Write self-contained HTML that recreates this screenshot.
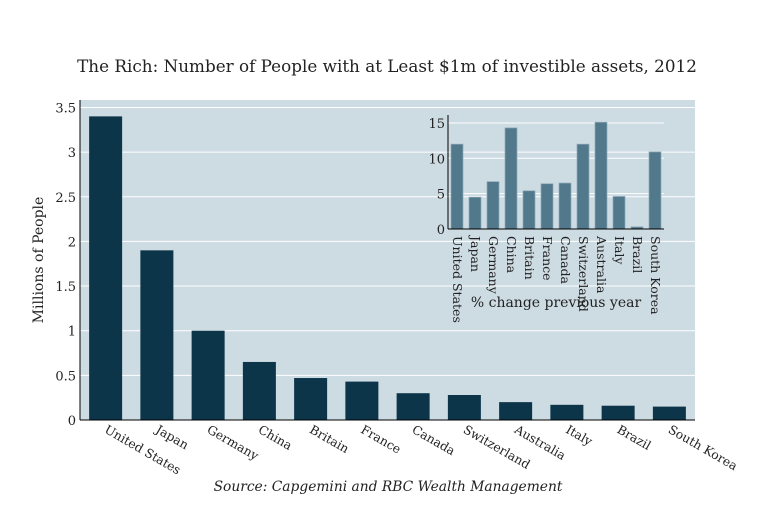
<!DOCTYPE html>
<html><head><meta charset="utf-8"><style>
body{margin:0;background:#fff;width:775px;height:500px;overflow:hidden}
svg text{font-family:"DejaVu Serif","Liberation Serif",serif;fill:#222}
</style></head><body>
<svg id="c" width="775" height="500">
<text x="387" y="72" text-anchor="middle" font-size="16.8">The Rich: Number of People with at Least $1m of investible assets, 2012</text>
<rect x="80" y="100" width="615" height="320" fill="#cddbe3"/>
<g id="main"></g><g id="inset"></g>
<text transform="translate(43,260) rotate(-90)" text-anchor="middle" font-size="14">Millions of People</text>
<text x="556" y="307" text-anchor="middle" font-size="14">% change previous year</text>
<text x="388" y="491" text-anchor="middle" font-size="13.8" font-style="italic">Source: Capgemini and RBC Wealth Management</text>
</svg>
<script>
const categories=["United States","Japan","Germany","China","Britain","France","Canada","Switzerland","Australia","Italy","Brazil","South Korea"];
const millions=[3.4,1.9,1.0,0.65,0.47,0.43,0.30,0.28,0.20,0.17,0.16,0.15];
const pctChange=[12.0,4.5,6.7,14.3,5.4,6.4,6.5,12.0,15.1,4.6,0.3,10.9];
const mainTicks=[0,0.5,1,1.5,2,2.5,3,3.5];
const mainTickLabels=["0","0.5","1","1.5","2","2.5","3","3.5"];
const insetTicks=[0,5,10,15];
const NS="http://www.w3.org/2000/svg";
function mk(p,t,a){const e=document.createElementNS(NS,t);for(const k in a)e.setAttribute(k,a[k]);p.appendChild(e);return e;}
const main=document.getElementById('main'),inset=document.getElementById('inset');
const my=v=>420-v*89.3, mx=i=>80+615/12*(i+0.5);
mainTicks.forEach((t,i)=>{
 if(t>0){const l=mk(main,'line',{x1:80,x2:695,y1:my(t),y2:my(t),stroke:'#fff','stroke-width':1});
 
 }
 const tx=mk(main,'text',{x:76,y:my(t)+5,'text-anchor':'end','font-size':13});tx.textContent=mainTickLabels[i];
 
 
});
categories.forEach((c,i)=>{
 const r=mk(main,'rect',{x:mx(i)-16.5,y:my(millions[i]),width:33,height:420-my(millions[i]),fill:'#0d3549'});
 
 
 const t=mk(main,'text',{transform:`translate(${mx(i)-2},432) rotate(30)`,'font-size':12.3});t.textContent=c;
 
 
});
mk(main,'line',{x1:80,x2:695,y1:420,y2:420,stroke:'#000'});
mk(main,'line',{x1:80,x2:80,y1:100,y2:420,stroke:'#000'});
const iy=v=>229-v*7.07, ix=i=>448+18*(i+0.5);
insetTicks.forEach(t=>{
 if(t>0){const l=mk(inset,'line',{x1:448,x2:664,y1:iy(t),y2:iy(t),stroke:'#fff'});
 
 }
 const tx=mk(inset,'text',{x:445,y:iy(t)+5,'text-anchor':'end','font-size':13});tx.textContent=t;
 
 
});
categories.forEach((c,i)=>{
 const r=mk(inset,'rect',{x:ix(i)-6,y:iy(pctChange[i]),width:12,height:229-iy(pctChange[i]),fill:'#52788c',stroke:'#8fa9b8','stroke-width':0.7});
 
 
 const t=mk(inset,'text',{transform:`translate(${ix(i)-4},236) rotate(90)`,'font-size':12.5});t.textContent=c;
 
 
});
mk(inset,'line',{x1:448,x2:664,y1:229,y2:229,stroke:'#000'});
mk(inset,'line',{x1:448,x2:448,y1:115,y2:229,stroke:'#000'});
</script>
</body></html>
